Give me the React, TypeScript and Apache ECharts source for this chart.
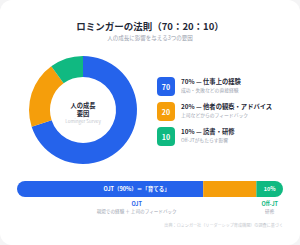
import React, { useEffect, useRef } from 'react';
import * as echarts from 'echarts';

const TITLE = 'ロミンガーの法則（70：20：10）';
const SUBTITLE = '人の成長に影響を与える3つの要因';
const factorNames = ['仕事上の経験', '他者の観察・アドバイス', '読書・研修'];
const factorValues = [70, 20, 10];
const factorNotes = ['成功・失敗などの直接経験', '上司などからのフィードバック', 'Off-JTがもたらす影響'];
const factorColors = ['#2563eb', '#f59e0b', '#10b981'];
const centerLines = ['人の成長', '要因'];
const centerSub = 'Lominger Survey';
const ojtValue = 90;
const ojtBarLabel = 'OJT（90%）＝「育てる」';
const groupNames = ['OJT', 'Off-JT'];
const groupNotes = ['現場での経験 ＋ 上司のフィードバック', '研修'];
const groupMid = [45, 95];
const SOURCE = '出典：ロミンガー社（リーダーシップ育成機関）の調査に基づく';

const FONT = '"Noto Sans CJK JP", "Noto Sans", sans-serif';

export default function App() {
  const ref = useRef<HTMLDivElement>(null);
  useEffect(() => {
    if (!ref.current) return;
    const chart = echarts.init(ref.current, undefined, { renderer: 'svg' });
    const gridLeft = 17;
    const gridRight = 17;
    const gridW = 300 - gridLeft - gridRight;

    const graphics: any[] = [];
    graphics.push({ type: 'text', style: { text: TITLE, x: 150, y: 26, align: 'center', verticalAlign: 'middle', font: `bold 9.5px ${FONT}`, fill: '#1f2937' } });
    graphics.push({ type: 'text', style: { text: SUBTITLE, x: 150, y: 38, align: 'center', verticalAlign: 'middle', font: `5.5px ${FONT}`, fill: '#9ca3af' } });
    graphics.push({ type: 'text', style: { text: centerLines[0], x: 83, y: 105, align: 'center', verticalAlign: 'middle', font: `bold 6.3px ${FONT}`, fill: '#1f2937' } });
    graphics.push({ type: 'text', style: { text: centerLines[1], x: 83, y: 113, align: 'center', verticalAlign: 'middle', font: `bold 6.3px ${FONT}`, fill: '#1f2937' } });
    graphics.push({ type: 'text', style: { text: centerSub, x: 83, y: 120.5, align: 'center', verticalAlign: 'middle', font: `4.5px ${FONT}`, fill: '#c4c8ce' } });

    factorValues.forEach((v, i) => {
      const yc = 86.5 + 25 * i;
      graphics.push({ type: 'rect', shape: { x: 157, y: yc - 9.5, width: 18, height: 19, r: 4 }, style: { fill: factorColors[i] } });
      graphics.push({ type: 'text', style: { text: String(v), x: 166, y: yc, align: 'center', verticalAlign: 'middle', font: `bold 7px ${FONT}`, fill: '#ffffff' } });
      graphics.push({ type: 'text', style: { text: `${v}% — ${factorNames[i]}`, x: 181, y: yc - 5, align: 'left', verticalAlign: 'middle', font: `bold 6.3px ${FONT}`, fill: '#1f2937' } });
      graphics.push({ type: 'text', style: { text: factorNotes[i], x: 181, y: yc + 2.5, align: 'left', verticalAlign: 'middle', font: `4.8px ${FONT}`, fill: '#9ca3af' } });
    });

    groupNames.forEach((g, i) => {
      const x = gridLeft + (gridW * groupMid[i]) / 100;
      graphics.push({ type: 'text', style: { text: g, x, y: 203.5, align: 'center', verticalAlign: 'middle', font: `bold 5.5px ${FONT}`, fill: i === 0 ? factorColors[0] : factorColors[2] } });
      graphics.push({ type: 'text', style: { text: groupNotes[i], x, y: 211, align: 'center', verticalAlign: 'middle', font: `4.6px ${FONT}`, fill: '#9ca3af' } });
    });
    graphics.push({ type: 'text', style: { text: SOURCE, x: 283, y: 224.5, align: 'right', verticalAlign: 'middle', font: `4.1px ${FONT}`, fill: '#c4c8ce' } });

    const n = factorValues.length;
    const barSeries: any[] = factorValues.map((v, i) => ({
      type: 'bar',
      name: factorNames[i],
      stack: 'total',
      data: [v],
      barWidth: 16,
      silent: true,
      itemStyle: {
        color: factorColors[i],
        borderRadius: i === 0 ? [8, 0, 0, 8] : i === n - 1 ? [0, 8, 8, 0] : 0,
      },
      label: {
        show: i === n - 1,
        position: 'inside',
        formatter: `${v}%`,
        color: '#fff',
        fontWeight: 'bold',
        fontSize: 5.5,
        fontFamily: FONT,
      },
    }));
    barSeries.push({
      type: 'bar',
      name: 'OJT',
      data: [ojtValue],
      barWidth: 16,
      barGap: '-100%',
      silent: true,
      itemStyle: { color: 'rgba(0,0,0,0)' },
      label: {
        show: true,
        position: 'inside',
        formatter: ojtBarLabel,
        color: '#fff',
        fontWeight: 'bold',
        fontSize: 5.5,
        fontFamily: FONT,
      },
      z: 5,
    });

    chart.setOption({
      animation: false,
      backgroundColor: 'transparent',
      textStyle: { fontFamily: FONT },
      grid: { left: gridLeft, right: gridRight, top: 181, height: 16, containLabel: false },
      xAxis: { type: 'value', min: 0, max: 100, show: false },
      yAxis: { type: 'category', data: ['growth'], show: false },
      series: [
        {
          type: 'pie',
          center: [83, 110],
          radius: [33, 54],
          startAngle: 90,
          clockwise: true,
          silent: true,
          label: { show: false },
          labelLine: { show: false },
          data: factorValues.map((v, i) => ({ value: v, name: factorNames[i], itemStyle: { color: factorColors[i] } })),
        },
        ...barSeries,
      ],
      graphic: graphics,
    });
    return () => chart.dispose();
  }, []);

  return (
    <div style={{ position: 'fixed', left: 0, top: 0, width: 300, height: 245, background: '#f4f4f5' }}>
      <div
        ref={ref}
        style={{ position: 'absolute', left: 0, top: 0, width: 300, height: 245, background: '#ffffff', borderRadius: 12 }}
      />
    </div>
  );
}
